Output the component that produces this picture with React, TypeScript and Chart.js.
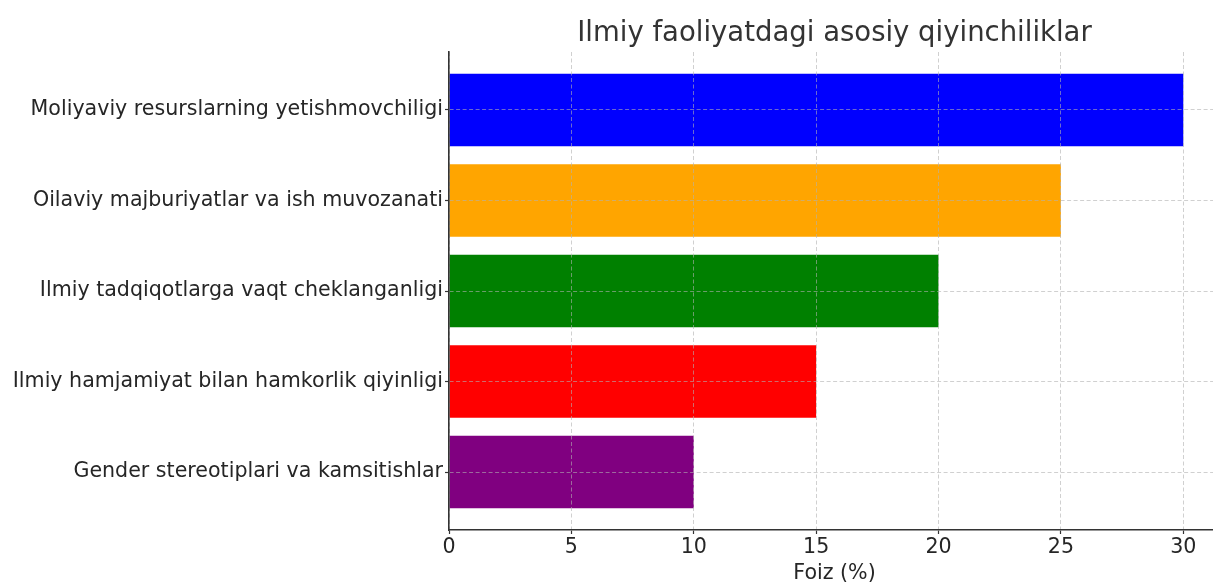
import React, { useEffect, useRef } from "react";
import { Chart, registerables } from "chart.js";

Chart.register(...registerables);

const TITLE = "Ilmiy faoliyatdagi asosiy qiyinchiliklar";
const X_LABEL = "Foiz (%)";
const categories = [
  "Moliyaviy resurslarning yetishmovchiligi",
  "Oilaviy majburiyatlar va ish muvozanati",
  "Ilmiy tadqiqotlarga vaqt cheklanganligi",
  "Ilmiy hamjamiyat bilan hamkorlik qiyinligi",
  "Gender stereotiplari va kamsitishlar",
];
const values = [30, 25, 20, 15, 10];
const colors = ["#0000ff", "#ffa500", "#008000", "#ff0000", "#800080"];
const xTicks = [0, 5, 10, 15, 20, 25, 30];

const FONT = "'DejaVu Sans', sans-serif";
const TEXT = "#262626";
const GRID = "rgba(176,176,176,0.6)";
const TICK_SIZE = 20.6;

const titlePlugin = {
  id: "centeredTitle",
  afterDraw(chart: any) {
    const { ctx, chartArea } = chart;
    ctx.save();
    ctx.font = `27.5px ${FONT}`;
    ctx.fillStyle = "#333333";
    ctx.textAlign = "center";
    ctx.textBaseline = "alphabetic";
    ctx.fillText(TITLE, (chartArea.left + chartArea.right) / 2, 41);
    ctx.restore();
  },
};

export default function App() {
  const ref = useRef<HTMLCanvasElement>(null);
  useEffect(() => {
    document.body.style.margin = "0";
    document.body.style.overflow = "hidden";
    const chart = new Chart(ref.current!, {
      type: "bar",
      data: {
        labels: categories,
        datasets: [
          {
            data: values.map((v, i) => ({ x: v, y: i })) as any,
            backgroundColor: colors,
            borderWidth: 0,
            categoryPercentage: 1,
            barPercentage: 0.8,
          },
        ],
      },
      plugins: [titlePlugin],
      options: {
        animation: false,
        responsive: false,
        devicePixelRatio: 1,
        indexAxis: "y",
        layout: { padding: { top: 52, left: 0, right: 0, bottom: 0 } },
        plugins: { legend: { display: false }, tooltip: { enabled: false }, title: { display: false } },
        scales: {
          x: {
            type: "linear",
            min: 0,
            max: 31.5,
            afterBuildTicks: (s: any) => {
              s.ticks = xTicks.map((v) => ({ value: v }));
            },
            afterFit: (s: any) => {
              s.height = 53;
            },
            ticks: { font: { family: FONT, size: TICK_SIZE }, color: TEXT, padding: 1, z: 2 },
            grid: {
              z: 1,
              color: GRID,
              tickColor: "#333",
              tickLength: 4,
              tickWidth: 1.2,
              tickBorderDash: [],
            },
            border: { display: true, color: "#333", width: 1.6, dash: [4, 2.5], z: 2 },
            title: {
              display: true,
              text: X_LABEL,
              font: { family: FONT, size: TICK_SIZE },
              color: TEXT,
              padding: { top: 0, bottom: -3 },
            },
          },
          y: {
            type: "linear",
            min: -0.64,
            max: 4.64,
            reverse: true,
            offset: false,
            afterBuildTicks: (s: any) => {
              s.ticks = categories.map((_, i) => ({ value: i }));
            },
            afterFit: (s: any) => {
              s.width = 449;
            },
            ticks: {
              font: { family: FONT, size: TICK_SIZE },
              color: TEXT,
              padding: 2,
              z: 2,
              callback: (v: any) => categories[Math.round(Number(v))] ?? "",
            },
            grid: {
              z: 1,
              offset: false,
              color: GRID,
              tickColor: "#333",
              tickLength: 4,
              tickWidth: 1.2,
              tickBorderDash: [],
            },
            border: { display: true, color: "#333", width: 1.6, dash: [4, 2.5], z: 2 },
          },
        },
      } as any,
    });
    return () => chart.destroy();
  }, []);
  return (
    <div style={{ position: "absolute", left: 0, top: 0 }}>
      <canvas ref={ref} width={1220} height={583} />
    </div>
  );
}
